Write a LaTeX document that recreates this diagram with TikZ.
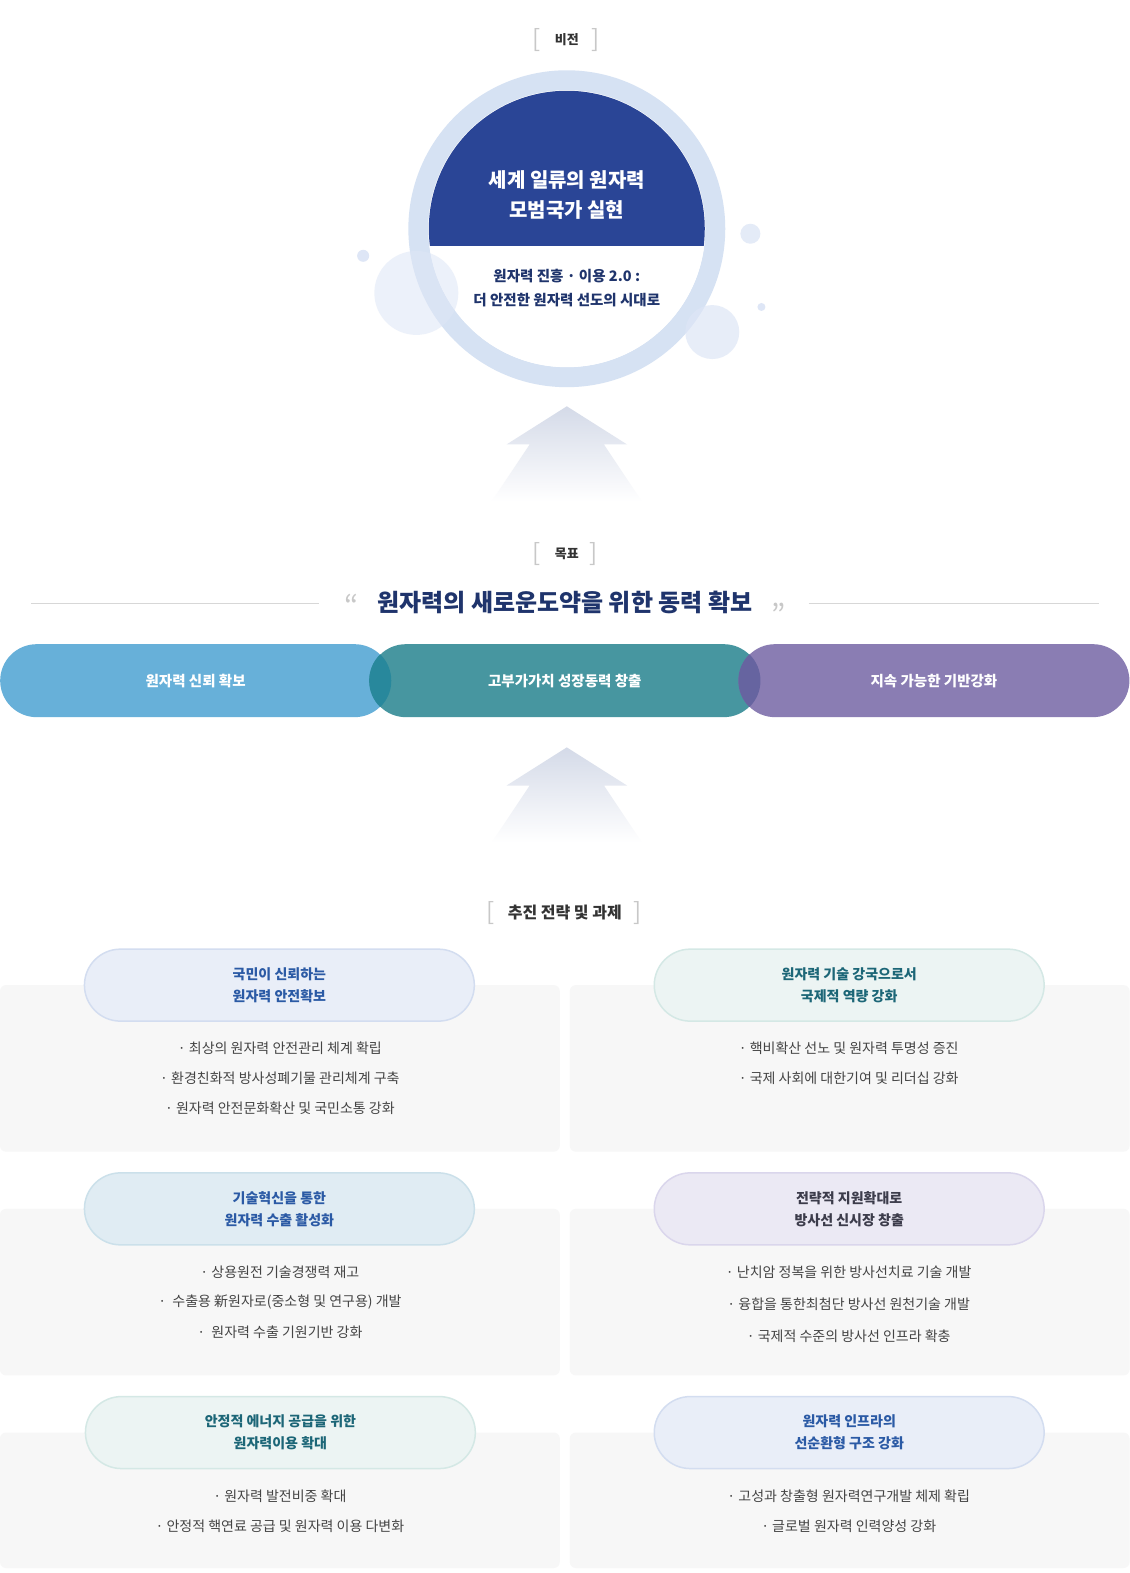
\documentclass[tikz,border=0pt]{standalone}
\usepackage{fontspec}
\usepackage{xcolor}
\usepackage{tikz}
\usetikzlibrary{positioning}
\newfontfamily\kr{Noto Sans CJK KR}
\newcommand{\fs}[2]{\fontsize{#1}{#2}\selectfont}

\definecolor{ringblue}{RGB}{214,226,243}
\definecolor{capblue}{RGB}{42,69,150}
\definecolor{navy}{RGB}{31,52,108}
\definecolor{bubble}{RGB}{222,230,246}
\definecolor{arrowgray}{RGB}{212,218,232}
\definecolor{goalA}{RGB}{103,176,217}
\definecolor{goalB}{RGB}{71,150,160}
\definecolor{goalC}{RGB}{138,125,179}
\definecolor{overAB}{RGB}{40,136,156}
\definecolor{overBC}{RGB}{102,100,160}
\definecolor{panelgray}{RGB}{247,247,247}
\definecolor{itemgray}{RGB}{68,68,68}
\definecolor{brkgray}{RGB}{200,200,200}
\definecolor{rulegray}{RGB}{215,215,215}
\definecolor{pillblue}{RGB}{233,238,248}
\definecolor{pillblueline}{RGB}{211,221,240}
\definecolor{pillsky}{RGB}{224,236,243}
\definecolor{pillskyline}{RGB}{203,224,234}
\definecolor{pillmint}{RGB}{236,244,243}
\definecolor{pillmintline}{RGB}{212,232,229}
\definecolor{pilllav}{RGB}{235,233,244}
\definecolor{pilllavline}{RGB}{218,214,236}
\definecolor{txtblue}{RGB}{43,90,165}
\definecolor{txtteal}{RGB}{28,102,119}
\definecolor{txtdark}{RGB}{60,60,75}

\tikzset{
  section/.style={font=\kr\fs{13}{15}\bfseries, text=black!80},
  brk/.style={font=\kr\fs{24}{24}, text=brkgray},
  quot/.style={font=\kr\fs{30}{30}, text=brkgray},
  goal/.style={minimum width=391, minimum height=73, inner sep=0,
    rounded corners=36.5, font=\kr\fs{14}{16}\bfseries, text=white},
  goaltext/.style={font=\kr\fs{14.5}{16}\bfseries, text=white},
  strat/.style={minimum width=390, minimum height=72, inner sep=0,
    rounded corners=36, line width=1.5, align=center,
    font=\kr\fs{14}{22}\bfseries},
  panel/.style={fill=panelgray, rounded corners=6},
  item/.style={font=\kr\fs{14}{16}, text=itemgray},
  uparrow/.style={top color=arrowgray, bottom color=white, draw=none}
}

\begin{document}
\begin{tikzpicture}[x=1.0035pt, y=-1.0035pt]
  \useasboundingbox (0,0) rectangle (1126,1568);
  \fill[white] (0,0) rectangle (1126,1568);

  % vision
  \node[section] (vis) at (565,40) {비전};
  \node[brk] (visl) at (535,40) {[};
  \node[brk] (visr) at (594,40) {]};
  \draw[ringblue, line width=20] (565,228) circle (148.5pt);
  \fill[white] (565,228) circle (138.5pt);
  \begin{scope}
    \clip (565,228) circle (138pt);
    \fill[capblue] (420,80) rectangle (710,245);
  \end{scope}
  \fill[bubble, fill opacity=0.55] (415,292) circle (42pt);
  \fill[bubble, fill opacity=0.7] (710,331) circle (27pt);
  \fill[bubble] (362,255) circle (6pt);
  \fill[bubble, fill opacity=0.8] (748,233) circle (10pt);
  \fill[bubble] (759,306) circle (4pt);
  \node[font=\kr\fs{20}{30}\bfseries, text=white, align=center] (vtitle) at (565,194)
    {세계 일류의 원자력\\모범국가 실현};
  \node[font=\kr\fs{14.5}{24}\bfseries, text=navy, align=center] (vsub) at (565,287)
    {원자력 진흥 · 이용 2.0 :\\더 안전한 원자력 선도의 시대로};

  \path[uparrow] (565,405) -- (625,443) -- (602,443) -- (640,500) -- (490,500)
    -- (528,443) -- (505,443) -- cycle;

  % goal
  \node[section] (gol) at (565,552) {목표};
  \node[brk] (goll) at (535,552) {[};
  \node[brk] (golr) at (592,552) {]};
  \node[font=\kr\fs{24}{26}\bfseries, text=navy] (gtitle) at (563,601)
    {원자력의 새로운도약을 위한 동력 확보};
  \node[quot] (ql) at (350,604) {“};
  \node[quot] (qr) at (776,613) {”};
  \draw[rulegray] (31,601) -- (318,601);
  \draw[rulegray] (806,601) -- (1095,601);

  \node[goal, fill=goalA] (g1) at (195,678.5) {};
  \node[goal, fill=goalB] (g2) at (563,678.5) {};
  \node[goal, fill=goalC] (g3) at (931,678.5) {};
  \begin{scope}
    \clip[rounded corners=36.5] (g1.south west) rectangle (g1.north east);
    \fill[overAB, rounded corners=36.5] (g2.south west) rectangle (g2.north east);
  \end{scope}
  \begin{scope}
    \clip[rounded corners=36.5] (g2.south west) rectangle (g2.north east);
    \fill[overBC, rounded corners=36.5] (g3.south west) rectangle (g3.north east);
  \end{scope}
  \node[goaltext] at (g1) {원자력 신뢰 확보};
  \node[goaltext] at (g2) {고부가가치 성장동력 창출};
  \node[goaltext] at (g3) {지속 가능한 기반강화};

  \path[uparrow] (565,745) -- (625,783) -- (602,783) -- (640,840) -- (490,840)
    -- (528,783) -- (505,783) -- cycle;

  % strategies
  \node[section, font=\kr\fs{16}{18}\bfseries] (str) at (563,910) {추진 전략 및 과제};
  \node[brk] (strl) at (489,910) {[};
  \node[brk] (strr) at (636,910) {]};

  \fill[panel] (0,982) rectangle (558,1148);
  \fill[panel] (568,982) rectangle (1126,1148);
  \fill[panel] (0,1205) rectangle (558,1371);
  \fill[panel] (568,1205) rectangle (1126,1371);
  \fill[panel] (0,1428) rectangle (558,1563);
  \fill[panel] (568,1428) rectangle (1126,1563);

  \node[strat, fill=pillblue, draw=pillblueline, text=txtblue] (s1) at (278.5,982)
    {국민이 신뢰하는\\원자력 안전확보};
  \node[strat, fill=pillmint, draw=pillmintline, text=txtteal] (s2) at (846.5,982)
    {원자력 기술 강국으로서\\국제적 역량 강화};
  \node[strat, fill=pillsky, draw=pillskyline, text=txtblue] (s3) at (278.5,1205)
    {기술혁신을 통한\\원자력 수출 활성화};
  \node[strat, fill=pilllav, draw=pilllavline, text=txtdark] (s4) at (846.5,1205)
    {전략적 지원확대로\\방사선 신시장 창출};
  \node[strat, fill=pillmint, draw=pillmintline, text=txtteal] (s5) at (279.5,1428)
    {안정적 에너지 공급을 위한\\원자력이용 확대};
  \node[strat, fill=pillblue, draw=pillblueline, text=txtblue] (s6) at (846.5,1428)
    {원자력 인프라의\\선순환형 구조 강화};

  \node[item] (t11) at (279,1045) {· 최상의 원자력 안전관리 체계 확립};
  \node[item] (t12) at (279,1075) {· 환경친화적 방사성폐기물 관리체계 구축};
  \node[item] (t13) at (279,1105) {· 원자력 안전문화확산 및 국민소통 강화};
  \node[item] (t21) at (846,1045) {· 핵비확산 선노 및 원자력 투명성 증진};
  \node[item] (t22) at (846,1075) {· 국제 사회에 대한기여 및 리더십 강화};
  \node[item] (t31) at (279,1268) {· 상용원전 기술경쟁력 재고};
  \node[item] (t32) at (279,1298) {·\ \ 수출용 新원자로(중소형 및 연구용) 개발};
  \node[item] (t33) at (279,1328) {·\ \ 원자력 수출 기원기반 강화};
  \node[item] (t41) at (846,1268) {· 난치암 정복을 위한 방사선치료 기술 개발};
  \node[item] (t42) at (846,1300) {· 융합을 통한최첨단 방사선 원천기술 개발};
  \node[item] (t43) at (846,1332) {· 국제적 수준의 방사선 인프라 확충};
  \node[item] (t51) at (279,1491) {· 원자력 발전비중 확대};
  \node[item] (t52) at (279,1521) {· 안정적 핵연료 공급 및 원자력 이용 다변화};
  \node[item] (t61) at (846,1491) {· 고성과 창출형 원자력연구개발 체제 확립};
  \node[item] (t62) at (846,1521) {· 글로벌 원자력 인력양성 강화};
\end{tikzpicture}
\end{document}
